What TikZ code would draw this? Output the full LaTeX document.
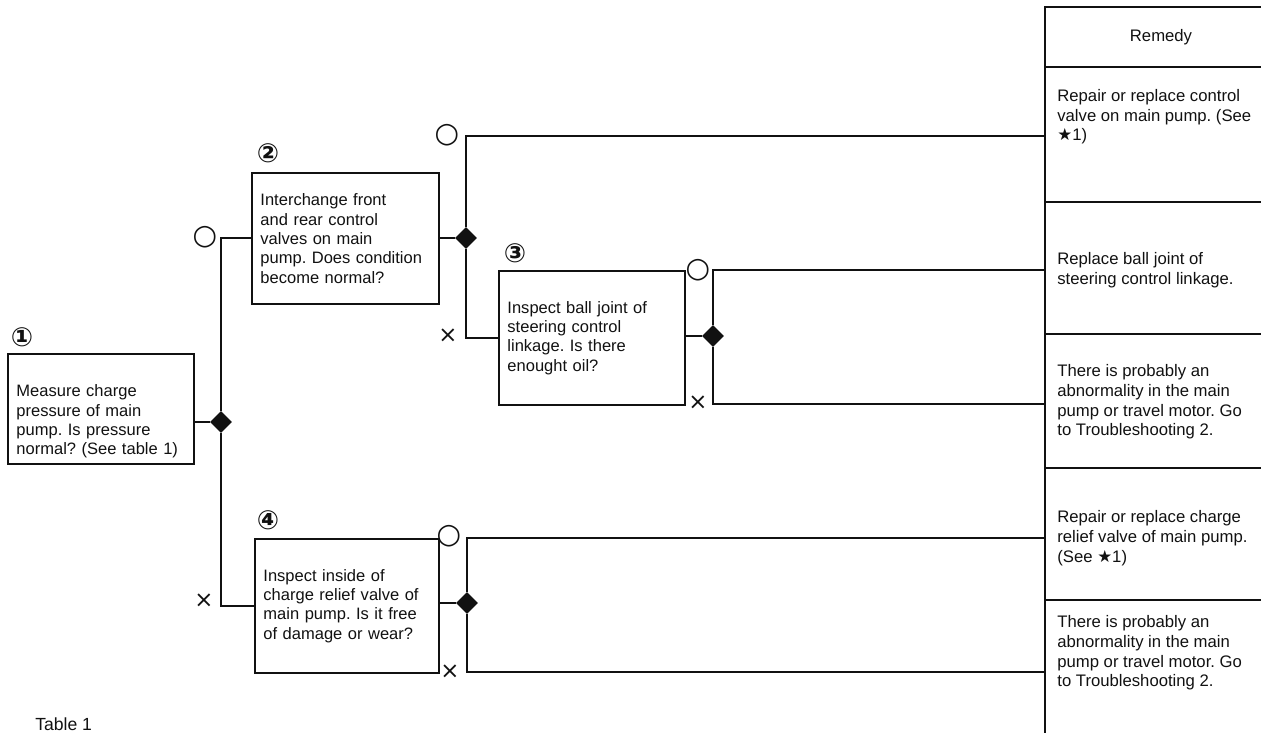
\documentclass[tikz,border=0pt]{standalone}
\usepackage{fontspec}
\setmainfont{Liberation Sans}
\newfontfamily\symfont{DejaVu Sans}
\usetikzlibrary{shapes.geometric, positioning}
\definecolor{inkblack}{RGB}{17, 17, 17}
\frenchspacing

\begin{document}
\begin{tikzpicture}[
    x=0.02cm, y=-0.02cm,
    qbox/.style={draw=inkblack, line width=1.1pt, anchor=north west, align=left, inner xsep=0.17cm, text=inkblack, font=\fontsize{9.4}{11}\selectfont},
    remedy/.style={anchor=west, align=left, inner sep=0pt, text=inkblack, font=\fontsize{9.5}{11.2}\selectfont},
    line/.style={draw=inkblack, line width=1.1pt},
    junction/.style={diamond, fill=inkblack, minimum size=0.44cm, inner sep=0pt},
    stepnum/.style={inner sep=0pt, text=inkblack, font={\symfont\bfseries\fontsize{15}{15}\selectfont}},
    yesmark/.style={inner sep=0pt, text=inkblack, font={\symfont\fontsize{16}{16}\selectfont}},
    nomark/.style={inner sep=0pt, text=inkblack, font={\symfont\fontsize{13}{13}\selectfont}}
]
\useasboundingbox (0,0) rectangle (1261,733);

% Question boxes
\node[qbox, text width=3.38cm, minimum height=2.10cm] (q1) at (7,353)
    {\rule{0pt}{21pt}Measure charge\\pressure of main\\pump. Is pressure\\normal? (See table 1)};
\node[qbox, text width=3.40cm, minimum height=2.62cm] (q2) at (251,172)
    {Interchange front\\and rear control\\valves on main\\pump. Does condition\\become normal?};
\node[qbox, text width=3.38cm, minimum height=2.68cm] (q3) at (498,270)
    {Inspect ball joint of\\steering control\\linkage. Is there\\enought oil?};
\node[qbox, text width=3.34cm, minimum height=2.68cm] (q4) at (254,538)
    {Inspect inside of\\charge relief valve of\\main pump. Is it free\\of damage or wear?};

% Step numbers
\node[stepnum] (n1) at (22,337) {①};
\node[stepnum] (n2) at (268,153) {②};
\node[stepnum] (n3) at (515,253) {③};
\node[stepnum] (n4) at (268,520) {④};

% Junctions
\node[junction] (d1) at (221,422) {};
\node[junction] (d2) at (466,238) {};
\node[junction] (d3) at (713,336) {};
\node[junction] (d4) at (467,603) {};

% Remedy column
\draw[line] (1045,733) -- (1045,7) -- (1261,7);
\draw[line] (1045,67) -- (1261,67);
\draw[line] (1045,202) -- (1261,202);
\draw[line] (1045,334) -- (1261,334);
\draw[line] (1045,468) -- (1261,468);
\draw[line] (1045,600) -- (1261,600);
\node[text=inkblack, font=\fontsize{9.5}{11}\selectfont] (head) at (1161,37) {Remedy};

\node[remedy] (r1) at (1057,117) {Repair or replace control\\valve on main pump. (See\\{\symfont ★}1)};
\node[remedy] (r2) at (1057,270) {Replace ball joint of\\steering control linkage.};
\node[remedy] (r3) at (1057,402) {There is probably an\\abnormality in the main\\pump or travel motor. Go\\to Troubleshooting 2.};
\node[remedy] (r4) at (1057,538) {Repair or replace charge\\relief valve of main pump.\\(See {\symfont ★}1)};
\node[remedy] (r5) at (1057,653) {There is probably an\\abnormality in the main\\pump or travel motor. Go\\to Troubleshooting 2.};

\coordinate (e1) at (1045,136);
\coordinate (e2) at (1045,270);
\coordinate (e3) at (1045,404);
\coordinate (e4) at (1045,538);
\coordinate (e5) at (1045,672);

% Connectors
\draw[line] (d1) -- (d1 -| q1.east);
\draw[line] (d1) |- (q2);
\draw[line] (d1) |- (q4.west);
\draw[line] (d2) -- (d2 -| q2.east);
\draw[line] (d2) |- (e1);
\draw[line] (d2) |- (q3);
\draw[line] (d3) -- (d3 -| q3.east);
\draw[line] (d3) |- (e2);
\draw[line] (d3) |- (e3);
\draw[line] (d4) -- (d4 -| q4.east);
\draw[line] (d4) |- (e4);
\draw[line] (d4) |- (e5);

% Yes / no marks
\node[yesmark] (y1) at (205,237) {○};
\node[nomark] (x1) at (204,601) {×};
\node[yesmark] (y2) at (447,135) {○};
\node[nomark] (x2) at (448,336) {×};
\node[yesmark] (y3) at (698,270) {○};
\node[nomark] (x3) at (698,403) {×};
\node[yesmark] (y4) at (449,536) {○};
\node[nomark] (x4) at (450,672) {×};

% Caption
\node[anchor=west, inner sep=0pt, text=inkblack, font=\fontsize{10}{12}\selectfont] (cap) at (35,724) {Table 1};

\end{tikzpicture}
\end{document}
